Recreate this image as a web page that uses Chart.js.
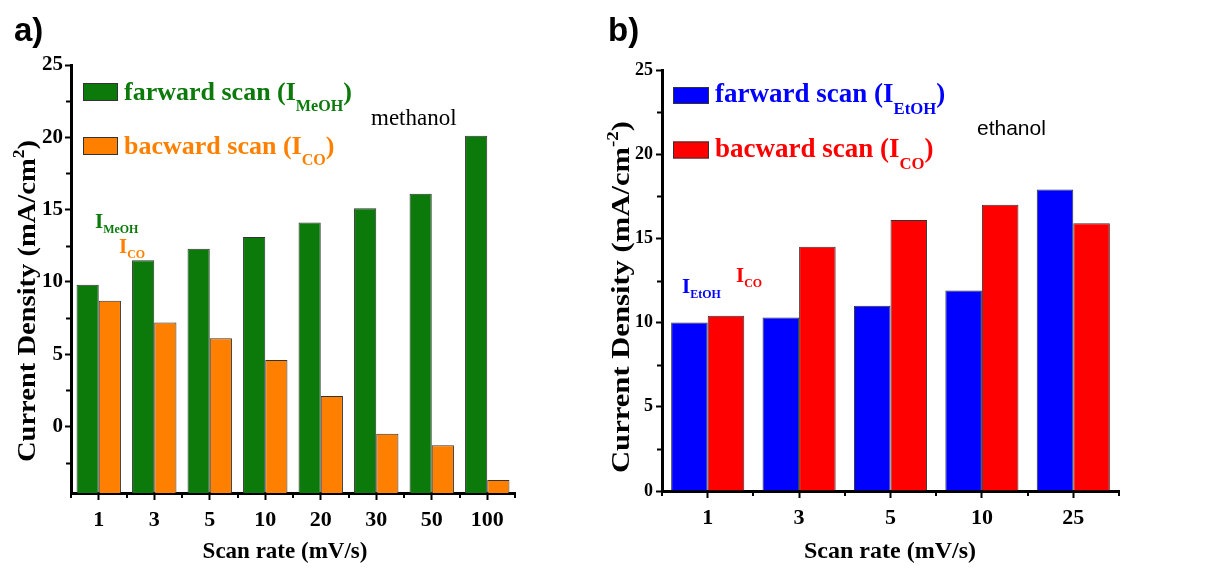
<!DOCTYPE html>
<html>
<head>
<meta charset="utf-8">
<script src="https://cdn.jsdelivr.net/npm/chart.js@4.4.0/dist/chart.umd.min.js"></script>
<style>
    body { margin: 0; background: #fff; }
    #wrap { position: relative; width: 1225px; height: 569px; }
    #chartA { position: absolute; left: 0; top: 0; }
    #chartB { position: absolute; left: 600px; top: 0; }
</style>
</head>
<body>
<div id="wrap">
    <canvas id="chartA" width="600" height="569"></canvas>
    <canvas id="chartB" width="625" height="569"></canvas>
</div>
<script>
// Methanol: peak currents vs. scan rate
const ratesA = ['1', '3', '5', '10', '20', '30', '50', '100'];
const forwardA = [9.8, 11.5, 12.3, 13.1, 14.1, 15.1, 16.1, 20.1];
const backwardA = [8.7, 7.2, 6.1, 4.6, 2.1, -0.5, -1.3, -3.7];
const yTicksA = [0, 5, 10, 15, 20, 25];
const yMinA = -4.6;

// Ethanol: peak currents vs. scan rate
const ratesB = ['1', '3', '5', '10', '25'];
const forwardB = [10.0, 10.3, 11.0, 11.9, 17.9];
const backwardB = [10.4, 14.5, 16.1, 17.0, 15.9];
const yTicksB = [0, 5, 10, 15, 20, 25];

const serif = 'Liberation Serif';

// Text with _{sub} and ^{sup} parts, drawn on the baseline y.
function drawRich(ctx, text, x, y, size, opts) {
    opts = opts || {};
    const family = opts.family || serif;
    const weight = opts.weight || 'bold';
    const subScale = opts.subScale || 0.62;
    const subDrop = opts.subDrop !== undefined ? opts.subDrop : 0.42;
    const supRise = opts.supRise !== undefined ? opts.supRise : 0.42;
    const parts = text.split(/(_\{[^}]*\}|\^\{[^}]*\})/).filter(p => p);
    const segs = parts.map(p => {
        let kind = 'n', t = p;
        if (p.startsWith('_{')) { kind = 'sub'; t = p.slice(2, -1); }
        else if (p.startsWith('^{')) { kind = 'sup'; t = p.slice(2, -1); }
        const s = kind === 'n' ? size : size * subScale;
        ctx.font = `${weight} ${s}px "${family}"`;
        return { kind, t, s, w: ctx.measureText(t).width };
    });
    const total = segs.reduce((a, b) => a + b.w, 0);
    if (opts.measureOnly) return total;
    let cx = opts.align === 'center' ? x - total / 2 : x;
    ctx.fillStyle = opts.color || '#000';
    ctx.textBaseline = 'alphabetic';
    ctx.textAlign = 'left';
    segs.forEach(sg => {
        ctx.font = `${weight} ${sg.s}px "${family}"`;
        let dy = 0;
        if (sg.kind === 'sub') dy = size * subDrop;
        if (sg.kind === 'sup') dy = -size * supRise;
        ctx.fillText(sg.t, cx, y + dy);
        cx += sg.w;
    });
    return total;
}

// Panel letter, axis titles, legend, notes and minor ticks
const panelDecor = {
    id: 'panelDecor',
    afterDraw(chart, args, o) {
        const ctx = chart.ctx;
        const area = chart.chartArea;
        const xs = chart.scales.x, ys = chart.scales.y;
        ctx.save();

        // minor ticks
        ctx.strokeStyle = '#000';
        ctx.lineWidth = 2;
        const maj = o.yTicks;
        const minors = [];
        for (let i = 0; i < maj.length - 1; i++) minors.push((maj[i] + maj[i + 1]) / 2);
        if (ys.min < maj[0] - (maj[1] - maj[0]) / 2) minors.push(maj[0] - (maj[1] - maj[0]) / 2);
        minors.forEach(v => {
            const py = Math.round(ys.getPixelForValue(v)) + 0.5;
            ctx.beginPath();
            ctx.moveTo(area.left - 1, py);
            ctx.lineTo(area.left - 5, py);
            ctx.stroke();
        });
        const n = chart.data.labels.length;
        const half = (xs.getPixelForValue(1) - xs.getPixelForValue(0)) / 2;
        for (let i = 0; i <= n; i++) {
            const px = Math.round(xs.getPixelForValue(i) - half);
            ctx.beginPath();
            ctx.moveTo(px, area.bottom + 1);
            ctx.lineTo(px, area.bottom + 5);
            ctx.stroke();
        }

        // panel letter
        ctx.font = `bold ${o.letter.size}px "Liberation Sans"`;
        ctx.fillStyle = '#000';
        ctx.textAlign = 'left';
        ctx.textBaseline = 'alphabetic';
        ctx.fillText(o.letter.text, o.letter.x, o.letter.y);

        // y title, rotated and stretched to its length
        const yt = o.yTitle;
        const ytOpts = { align: 'center', subScale: 0.62, supRise: 0.42 };
        const natural = drawRich(ctx, yt.text, 0, 0, yt.size, Object.assign({ measureOnly: true }, ytOpts));
        ctx.save();
        ctx.translate(yt.x, yt.y);
        ctx.rotate(-Math.PI / 2);
        ctx.scale(yt.length / natural, 1);
        drawRich(ctx, yt.text, 0, 0, yt.size, ytOpts);
        ctx.restore();

        // x title
        drawRich(ctx, o.xTitle.text, o.xTitle.x, o.xTitle.y, o.xTitle.size, { align: 'center' });

        // legend from the datasets
        const lg = o.legend;
        chart.data.datasets.forEach((ds, i) => {
            const top = lg.y + i * lg.gap;
            ctx.fillStyle = ds.backgroundColor;
            ctx.fillRect(lg.x, top, lg.boxW, lg.boxH);
            ctx.strokeStyle = '#333';
            ctx.lineWidth = 1;
            ctx.strokeRect(lg.x + 0.5, top + 0.5, lg.boxW - 1, lg.boxH - 1);
            drawRich(ctx, ds.label, lg.x + lg.boxW + lg.textGap, top + lg.base, lg.size,
                { color: ds.backgroundColor, subScale: 0.62, subDrop: 0.46 });
        });

        // notes
        o.notes.forEach(nt => {
            drawRich(ctx, nt.text, nt.x, nt.y, nt.size,
                { family: nt.family, weight: nt.weight, color: nt.color, subScale: 0.57, subDrop: 0.25 });
        });
        ctx.restore();
    }
};

function makeChart(id, cfg) {
    return new Chart(document.getElementById(id).getContext('2d'), {
        type: 'bar',
        data: {
            labels: cfg.labels,
            datasets: cfg.series.map(s => ({
                label: s.label,
                data: s.data,
                backgroundColor: s.color,
                borderColor: '#333',
                borderWidth: 1,
                base: cfg.yMin,
                categoryPercentage: 0.8,
                barPercentage: 1.0
            }))
        },
        options: {
            responsive: false,
            animation: false,
            layout: { padding: cfg.padding },
            plugins: {
                legend: { display: false },
                tooltip: { enabled: false },
                panelDecor: cfg.decor
            },
            scales: {
                x: {
                    afterFit: s => { s.height = cfg.xHeight; },
                    border: { display: true, width: 3, color: '#000' },
                    grid: { drawOnChartArea: false, offset: false, tickLength: 7, tickWidth: 2, tickColor: '#000' },
                    ticks: { color: '#000', padding: 7, font: { family: serif, weight: 'bold', size: cfg.xTickSize } }
                },
                y: {
                    min: cfg.yMin,
                    max: 25,
                    afterFit: s => { s.width = cfg.yWidth; },
                    afterBuildTicks: s => { s.ticks = cfg.yTicks.map(v => ({ value: v })); },
                    border: { display: true, width: 3, color: '#000' },
                    grid: { drawOnChartArea: false, tickLength: 6, tickWidth: 2, tickColor: '#000' },
                    ticks: { color: '#000', padding: cfg.yTickPad, font: { family: serif, weight: 'bold', size: cfg.yTickSize } }
                }
            }
        },
        plugins: [panelDecor]
    });
}

makeChart('chartA', {
    labels: ratesA,
    yMin: yMinA,
    yTicks: yTicksA,
    series: [
        { label: 'farward scan (I_{MeOH})', data: forwardA, color: '#0b7a0b' },
        { label: 'bacward scan (I_{CO})', data: backwardA, color: '#ff8000' }
    ],
    padding: { left: 0, top: 65, right: 85, bottom: 0 },
    xHeight: 76, yWidth: 71, xTickSize: 22, yTickSize: 21, yTickPad: 2,
    decor: {
        yTicks: yTicksA,
        letter: { text: 'a)', x: 14, y: 41, size: 33 },
        yTitle: { text: 'Current Density (mA/cm^{2})', x: 35, y: 301, size: 26, length: 322 },
        xTitle: { text: 'Scan rate (mV/s)', x: 285, y: 558, size: 23 },
        legend: { x: 83, y: 83, boxW: 35, boxH: 18, gap: 54, textGap: 6, base: 16.5, size: 26 },
        notes: [
            { text: 'methanol', x: 371, y: 125, size: 23, weight: 'normal', color: '#000' },
            { text: 'I_{MeOH}', x: 95, y: 228, size: 21, weight: 'bold', color: '#0b7a0b' },
            { text: 'I_{CO}', x: 119, y: 253, size: 21, weight: 'bold', color: '#ff8000' }
        ]
    }
});

makeChart('chartB', {
    labels: ratesB,
    yMin: 0,
    yTicks: yTicksB,
    series: [
        { label: 'farward scan (I_{EtOH})', data: forwardB, color: '#0000ff' },
        { label: 'bacward scan (I_{CO})', data: backwardB, color: '#ff0000' }
    ],
    padding: { left: 0, top: 70, right: 106, bottom: 0 },
    xHeight: 78, yWidth: 62, xTickSize: 22, yTickSize: 18, yTickPad: 3,
    decor: {
        yTicks: yTicksB,
        letter: { text: 'b)', x: 8, y: 41, size: 33 },
        yTitle: { text: 'Current Density (mA/cm^{-2})', x: 29, y: 297, size: 26, length: 352 },
        xTitle: { text: 'Scan rate (mV/s)', x: 290, y: 558, size: 24 },
        legend: { x: 73, y: 87, boxW: 36, boxH: 17, gap: 54.5, textGap: 6, base: 15, size: 27 },
        notes: [
            { text: 'ethanol', x: 377, y: 135, size: 21, weight: 'normal', family: 'Liberation Sans', color: '#000' },
            { text: 'I_{EtOH}', x: 82, y: 293, size: 21, weight: 'bold', color: '#0000ff' },
            { text: 'I_{CO}', x: 136, y: 282, size: 21, weight: 'bold', color: '#ff0000' }
        ]
    }
});
</script>
</body>
</html>
